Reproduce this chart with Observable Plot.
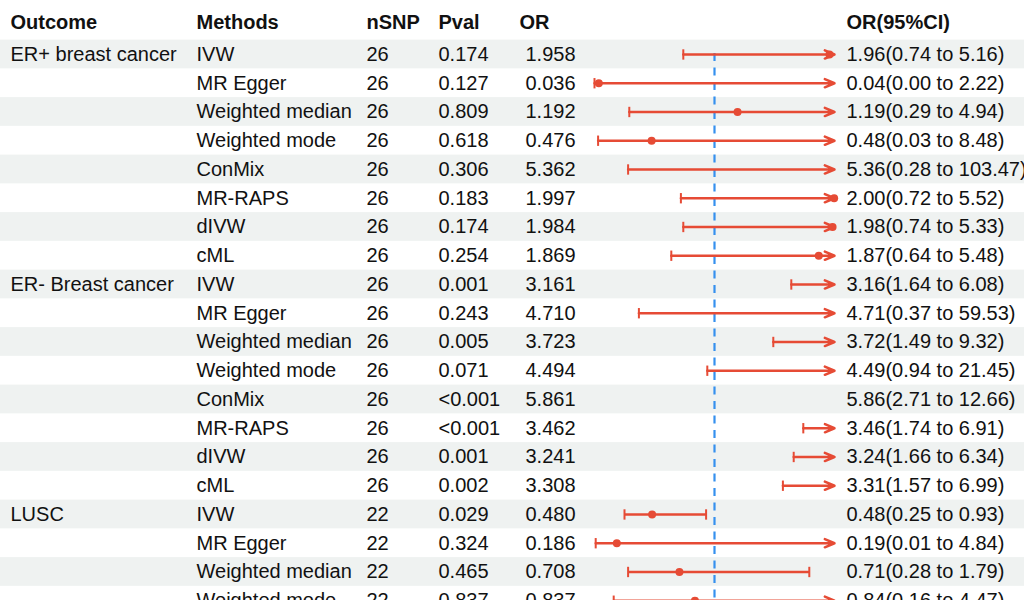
<!DOCTYPE html>
<html>
<head>
<meta charset="utf-8">
<script src="https://cdn.jsdelivr.net/npm/d3@7"></script>
<script src="https://cdn.jsdelivr.net/npm/@observablehq/plot@0.6"></script>
<style>
  html, body { margin: 0; padding: 0; background: #fff; overflow: hidden; }
  svg { display: block; }
</style>
</head>
<body>
<div id="chart"></div>
<script>
// ---- data ----
const outcomes = ["ER+ breast cancer", "ER- Breast cancer", "LUSC"];
const groupSizes = [8, 8, 4];
const methods = [
  "IVW", "MR Egger", "Weighted median", "Weighted mode", "ConMix", "MR-RAPS", "dIVW", "cML",
  "IVW", "MR Egger", "Weighted median", "Weighted mode", "ConMix", "MR-RAPS", "dIVW", "cML",
  "IVW", "MR Egger", "Weighted median", "Weighted mode"
];
const nSNP = [26, 26, 26, 26, 26, 26, 26, 26, 26, 26, 26, 26, 26, 26, 26, 26, 22, 22, 22, 22];
const pvals = [
  "0.174", "0.127", "0.809", "0.618", "0.306", "0.183", "0.174", "0.254",
  "0.001", "0.243", "0.005", "0.071", "<0.001", "<0.001", "0.001", "0.002",
  "0.029", "0.324", "0.465", "0.837"
];
const orValues = [1.958, 0.036, 1.192, 0.476, 5.362, 1.997, 1.984, 1.869,
                  3.161, 4.710, 3.723, 4.494, 5.861, 3.462, 3.241, 3.308,
                  0.480, 0.186, 0.708, 0.837];
const ciLower = [0.74, 0.00, 0.29, 0.03, 0.28, 0.72, 0.74, 0.64,
                 1.64, 0.37, 1.49, 0.94, 2.71, 1.74, 1.66, 1.57,
                 0.25, 0.01, 0.28, 0.16];
const ciUpper = [5.16, 2.22, 4.94, 8.48, 103.47, 5.52, 5.33, 5.48,
                 6.08, 59.53, 9.32, 21.45, 12.66, 6.91, 6.34, 6.99,
                 0.93, 4.84, 1.79, 4.47];
const headers = ["Outcome", "Methods", "nSNP", "Pval", "OR", "OR(95%CI)"];
const xDomain = [0, 2];
const refLine = [1];

// ---- build table ----
const outcomeCol = [];
outcomes.forEach((o, g) => { for (let k = 0; k < groupSizes[g]; k++) outcomeCol.push(k === 0 ? o : ""); });
const f2 = v => v.toFixed(2);
const rows = methods.map((m, i) => ({
  i,
  outcome: outcomeCol[i],
  method: m,
  nsnp: String(nSNP[i]),
  pval: pvals[i],
  or: orValues[i],
  orText: orValues[i].toFixed(3),
  lo: ciLower[i],
  hi: ciUpper[i],
  ci: `${f2(orValues[i])}(${f2(ciLower[i])} to ${f2(ciUpper[i])})`
}));

const xmin = xDomain[0], xmax = xDomain[1];
const visible = rows.filter(d => d.lo < xmax);
const clipped = visible.filter(d => d.hi > xmax);
const closed = visible.filter(d => d.hi <= xmax);

const RED = "#E64B35";
const BLUE = "#3590EE";
const FS = 20;
const FONT = "'Liberation Sans', Arial, Helvetica, sans-serif";

const columns = [
  {key: "outcome", dx: 10},
  {key: "method", dx: 196},
  {key: "nsnp", dx: 366},
  {key: "pval", dx: 438},
  {key: "orText", dx: 525},
  {key: "ci", dx: 846}
];
const headerDx = [10, 196, 366, 438, 519, 846];

const textMarks = columns.map(c => Plot.text(rows, {
  y: "i", text: c.key, frameAnchor: "left", dx: c.dx, textAnchor: "start",
  lineAnchor: "middle", fontSize: FS, fill: "#111"
}));
const headerMarks = headers.map((h, k) => Plot.text([h], {
  text: d => d, frameAnchor: "top-left", dx: headerDx[k], dy: 22, textAnchor: "start",
  lineAnchor: "middle", fontSize: FS, fontWeight: "bold", fill: "#111"
}));

const chart = Plot.plot({
  width: 1024,
  height: 600,
  marginTop: 0, marginRight: 0, marginBottom: 0, marginLeft: 0,
  style: {fontFamily: FONT, background: "#fff", overflow: "hidden"},
  x: {type: "linear", domain: xDomain, range: [594, 834], axis: null},
  y: {type: "linear", domain: [-0.5, 19.5], range: [39.6, 614.6], axis: null},
  marks: [
    Plot.rect(rows.filter(d => d.i % 2 === 0), {y1: d => d.i - 0.5, y2: d => d.i + 0.5, fill: "#EFF2F1"}),
    Plot.ruleX(refLine, {stroke: BLUE, strokeWidth: 2.2, strokeDasharray: "8,6.5", insetTop: 53}),
    Plot.link(closed, {x1: d => Math.max(d.lo, xmin), x2: "hi", y1: "i", y2: "i", stroke: RED, strokeWidth: 2.5}),
    Plot.arrow(clipped, {x1: d => Math.max(d.lo, xmin), x2: () => xmax, y1: "i", y2: "i", stroke: RED, strokeWidth: 2.5, headLength: 6.3, headAngle: 46, bend: 0}),
    Plot.link(visible.filter(d => d.lo >= xmin), {x1: "lo", x2: "lo", y1: d => d.i - 0.18, y2: d => d.i + 0.18, stroke: RED, strokeWidth: 2}),
    Plot.link(closed, {x1: "hi", x2: "hi", y1: d => d.i - 0.18, y2: d => d.i + 0.18, stroke: RED, strokeWidth: 2}),
    Plot.dot(rows.filter(d => d.or >= xmin && d.or <= xmax), {x: "or", y: "i", r: 4, fill: RED, stroke: "none"}),
    ...textMarks,
    ...headerMarks
  ]
});
document.getElementById("chart").append(chart);
</script>
</body>
</html>
